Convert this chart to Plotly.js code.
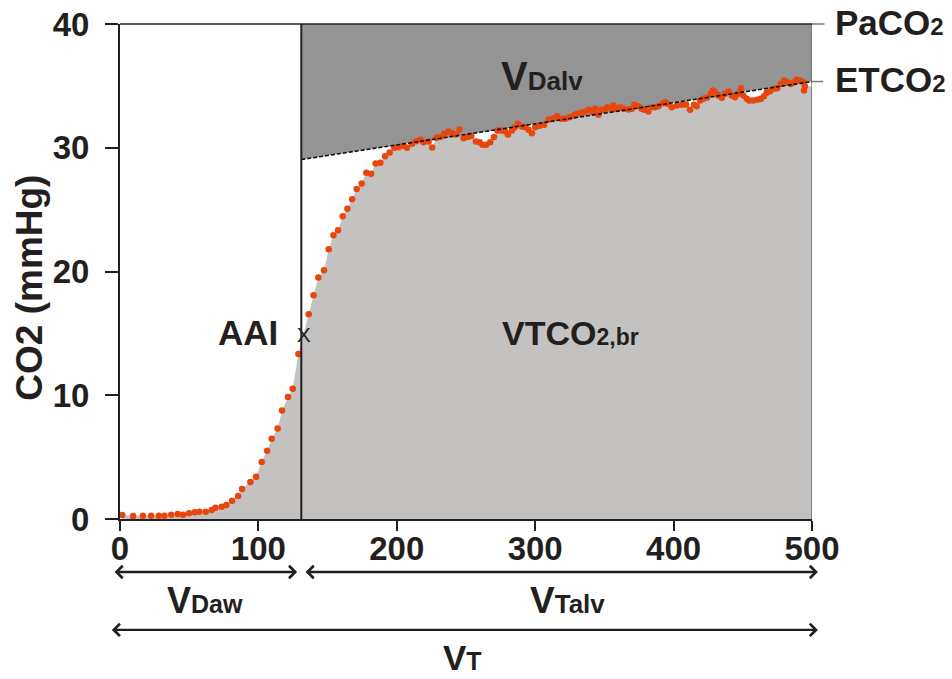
<!DOCTYPE html>
<html>
<head>
<meta charset="utf-8">
<script src="https://cdn.plot.ly/plotly-3.0.1.min.js"></script>
<style>
  html, body { margin: 0; padding: 0; background: #ffffff; }
  #chart { width: 952px; height: 679px; }
</style>
</head>
<body>
<div id="chart"></div>
<script>
// Expired volume (mL) of each capnogram sample
const volume = [
  1.6, 9.5, 16.5, 22.5, 28.0, 32.1, 37.0, 41.7, 45.6, 49.9,
  54.0, 57.4, 62.0, 66.3, 69.0, 73.5, 76.9, 81.0, 85.3, 88.2,
  94.2, 98.3, 102.4, 106.3, 109.6, 113.9, 117.1, 121.4, 124.8,
  128.9, 136.3, 139.9, 143.3, 147.4, 150.8,
  154.2, 157.5, 160.9, 164.3, 167.7, 171.0, 174.6, 178.0, 181.4, 184.7,
  188.1, 191.5, 194.8, 198.2, 201.3, 204.7, 207.4,
  211.0, 214.1, 217.0, 219.3, 223.0, 225.6, 228.5, 231.4, 234.3, 237.4,
  239.9, 242.7, 245.3, 248.2, 251.1, 253.8, 257.2, 259.8, 261.9, 264.6,
  267.5, 270.2, 272.8, 275.5, 278.3, 280.3, 283.2, 285.3, 287.5, 290.4,
  292.8, 295.2,
  297.6, 300.0, 303.1, 306.5, 309.6, 312.8, 315.7, 318.6, 321.7, 324.8,
  327.7, 330.1, 333.0, 336.1, 338.8, 341.7, 343.3, 345.7, 347.7, 350.5,
  352.2, 355.4, 356.5, 359.4, 361.4, 364.3, 367.4, 369.8, 371.7, 374.6,
  377.0, 378.9, 381.8, 384.3, 386.6, 389.0, 392.2, 393.9, 395.5,
  398.7, 402.3, 405.9, 409.0, 411.9, 414.8, 416.7, 419.1, 421.5, 424.0,
  426.9, 428.3, 430.0, 432.3, 434.8, 437.2, 439.6, 442.0, 444.4, 446.8,
  448.7, 450.4, 452.8, 454.7, 457.6, 460.5, 463.0, 465.3, 467.3, 469.7,
  472.6, 474.9, 477.4, 479.8, 482.2, 484.6, 487.0, 488.9, 491.3, 493.7,
  494.2, 494.9
];

// CO2 partial pressure (mmHg) of each sample
const co2 = [
  0.32, 0.24, 0.27, 0.27, 0.27, 0.27, 0.35, 0.40, 0.35, 0.46,
  0.54, 0.59, 0.59, 0.73, 0.91, 0.99, 1.13, 1.48, 1.86, 2.42,
  2.99, 3.41, 4.60, 5.51, 6.48, 7.31, 8.77, 9.85, 10.52,
  13.34, 16.55, 18.08, 19.51, 20.10, 21.79,
  22.92, 23.33, 24.46, 25.08, 25.83, 26.66, 27.12, 27.98, 27.90, 28.73,
  28.79, 29.32, 29.62, 30.00, 30.05, 30.16, 30.00,
  30.32, 30.53, 30.65, 30.45, 30.51, 30.02, 30.81, 30.86, 31.13, 31.32,
  31.18, 31.07, 31.48, 30.77, 30.86, 30.94, 30.51, 30.45, 30.24, 30.24,
  30.45, 30.86, 31.40, 31.40, 31.34, 31.07, 31.40, 31.66, 31.94, 31.72,
  31.66, 31.45,
  31.18, 31.66, 31.78, 31.86, 32.28, 32.34, 32.55, 32.34, 32.34, 32.47,
  32.61, 32.74, 32.82, 32.93, 33.07, 32.87, 33.15, 32.66, 33.07, 33.09,
  33.28, 33.09, 33.41, 33.15, 33.28, 33.15, 33.09, 33.15, 33.47, 33.36,
  33.15, 33.07, 32.93, 33.28, 33.28, 33.36, 33.60, 33.68, 33.55,
  33.28, 33.41, 33.47, 33.49, 33.07, 33.47, 33.36, 33.82, 33.96, 34.04,
  34.36, 34.62, 34.49, 34.22, 34.04, 34.36, 34.54, 34.22, 34.08, 34.36,
  34.81, 34.22, 33.96, 33.82, 33.82, 33.87, 33.96, 34.17, 34.44, 34.57,
  34.76, 34.81, 35.16, 35.43, 35.29, 35.16, 35.29, 35.49, 35.43, 35.29,
  34.62, 34.97
];

// Key volumes and pressures
const tidalVolume = 500;          // VT (mL)
const airwayDeadSpace = 131;      // VDaw boundary (mL)
const paco2 = 40;                 // arterial CO2 (mmHg)
const etco2 = 35.35;              // end-tidal CO2 (mmHg)
const phase3Volume = [131, 500];  // alveolar plateau regression line
const phase3CO2 = [29.05, 35.35];
const aaiVolume = [132.7];        // alpha angle inflection point
const aaiCO2 = [14.7];

const xTicks = [0, 100, 200, 300, 400, 500];
const yTicks = [0, 10, 20, 30, 40];

const FONT = 'Liberation Sans, Arial, Helvetica, sans-serif';
const INK = '#231f20';

const MARGIN = { l: 120, r: 140, t: 24, b: 160 };
const WIDTH = 952, HEIGHT = 679;
const plotWidth = WIDTH - MARGIN.l - MARGIN.r;

const lastCO2 = co2[co2.length - 1];

const traces = [
  // VTCO2,br area under the expirogram
  {
    x: volume.concat([tidalVolume]),
    y: co2.concat([lastCO2]),
    mode: 'lines',
    line: { width: 0, color: 'rgba(0,0,0,0)' },
    fill: 'tozeroy',
    fillcolor: '#c3c2c0',
    hoverinfo: 'skip',
    showlegend: false
  },
  // VDalv area between the phase III line and PaCO2
  {
    x: [phase3Volume[0], phase3Volume[1], phase3Volume[1], phase3Volume[0]],
    y: [phase3CO2[0], phase3CO2[1], paco2, paco2],
    mode: 'lines',
    line: { width: 0, color: 'rgba(0,0,0,0)' },
    fill: 'toself',
    fillcolor: '#949494',
    hoverinfo: 'skip',
    showlegend: false
  },
  // sampled CO2
  {
    x: volume,
    y: co2,
    mode: 'markers',
    marker: { size: 6.5, color: '#e8460c' },
    cliponaxis: false,
    showlegend: false
  },
  // phase III slope
  {
    x: phase3Volume,
    y: phase3CO2,
    mode: 'lines',
    line: { color: '#111111', width: 1.6, dash: '4px,2px' },
    hoverinfo: 'skip',
    showlegend: false
  },
  // AAI point
  {
    x: aaiVolume,
    y: aaiCO2,
    mode: 'text',
    text: ['X'],
    textposition: 'middle center',
    textfont: { family: FONT, size: 21, color: INK },
    cliponaxis: false,
    showlegend: false
  }
];

function small(t, size) {
  return '<span style="font-size:' + size + 'px">' + t + '</span>';
}

const bold = (size) => ({ family: FONT, size: size, color: INK, weight: 'bold' });

// double-headed volume arrow under the x axis, from volume v0 to v1
function arrow(v0, v1, yPaper) {
  return {
    xref: 'paper', yref: 'paper', axref: 'pixel', ayref: 'pixel',
    x: v1 / tidalVolume, y: yPaper,
    ax: -(v1 - v0) / tidalVolume * plotWidth, ay: 0,
    text: '', showarrow: true,
    arrowside: 'end+start',
    arrowhead: 4, startarrowhead: 4,
    arrowsize: 1, startarrowsize: 1,
    arrowwidth: 2.4, arrowcolor: INK
  };
}

const annotations = [
  { xref: 'paper', yref: 'paper', x: -0.131, y: 0.468, text: 'CO2 (mmHg)', textangle: -90,
    showarrow: false, font: bold(37), xanchor: 'center', yanchor: 'middle' },
  { xref: 'x', yref: 'y', x: 92.8, y: 15.1, text: 'AAI', showarrow: false,
    font: bold(35), xanchor: 'center', yanchor: 'middle' },
  { xref: 'x', yref: 'y', x: 274.7, y: 15.0, text: 'VTCO' + small('2,br', 23), showarrow: false,
    font: bold(34), xanchor: 'left', yanchor: 'middle' },
  { xref: 'x', yref: 'y', x: 274.2, y: 35.8, text: 'V' + small('Dalv', 26), showarrow: false,
    font: bold(40), xanchor: 'left', yanchor: 'middle' },
  { xref: 'paper', yref: 'y', x: 1.03, y: paco2, yshift: 2, text: 'PaCO' + small('2', 24), showarrow: false,
    font: bold(35), xanchor: 'left', yanchor: 'middle' },
  { xref: 'paper', yref: 'y', x: 1.03, y: etco2, yshift: 2, text: 'ETCO' + small('2', 24), showarrow: false,
    font: bold(35), xanchor: 'left', yanchor: 'middle' },
  { xref: 'x', yref: 'paper', x: 61.7, y: -0.164, text: 'V' + small('Daw', 25), showarrow: false,
    font: bold(36), xanchor: 'center', yanchor: 'middle' },
  { xref: 'x', yref: 'paper', x: 323.1, y: -0.164, text: 'V' + small('Talv', 26), showarrow: false,
    font: bold(37), xanchor: 'center', yanchor: 'middle' },
  { xref: 'x', yref: 'paper', x: 247.3, y: -0.279, text: 'V' + small('T', 25), showarrow: false,
    font: bold(35), xanchor: 'center', yanchor: 'middle' },
  arrow(-5, airwayDeadSpace - 3, -0.107),
  arrow(airwayDeadSpace + 2, tidalVolume + 4.3, -0.107),
  arrow(-7, tidalVolume + 4.3, -0.224)
];

const shapes = [
  // airway dead space boundary
  { type: 'line', xref: 'x', yref: 'y', x0: airwayDeadSpace, x1: airwayDeadSpace, y0: 0, y1: paco2,
    line: { color: INK, width: 2 }, layer: 'above' },
  // end of expiration
  { type: 'line', xref: 'x', yref: 'y', x0: tidalVolume, x1: tidalVolume, y0: 0, y1: paco2,
    line: { color: '#6a6a6a', width: 1.5 }, layer: 'above' },
  // PaCO2 level
  { type: 'line', xref: 'paper', yref: 'paper', x0: 0, x1: 1, y0: 1, y1: 1,
    line: { color: INK, width: 1.5 }, layer: 'above' },
  { type: 'line', xref: 'paper', yref: 'paper', x0: 1, x1: 1.018, y0: 1, y1: 1,
    line: { color: '#777777', width: 1.5 }, layer: 'above' },
  // ETCO2 marker
  { type: 'line', xref: 'paper', yref: 'paper', x0: 1, x1: 1.016, y0: etco2 / paco2, y1: etco2 / paco2,
    line: { color: '#777777', width: 1.5 }, layer: 'above' }
];

const layout = {
  width: WIDTH,
  height: HEIGHT,
  margin: MARGIN,
  paper_bgcolor: '#ffffff',
  plot_bgcolor: '#ffffff',
  showlegend: false,
  xaxis: {
    range: [0, tidalVolume],
    tickvals: xTicks,
    ticktext: xTicks.map(String),
    ticks: 'outside', ticklen: 10, tickwidth: 2, tickcolor: INK,
    ticklabelstandoff: -11,
    showline: true, linecolor: INK, linewidth: 2,
    showgrid: false, zeroline: false,
    tickfont: bold(33),
    fixedrange: true
  },
  yaxis: {
    range: [0, paco2],
    tickvals: yTicks,
    ticktext: yTicks.map(String),
    ticks: 'outside', ticklen: 13, tickwidth: 2, tickcolor: INK,
    ticklabelstandoff: 9,
    showline: true, linecolor: INK, linewidth: 2,
    showgrid: false, zeroline: false,
    tickfont: bold(33),
    fixedrange: true
  },
  annotations: annotations,
  shapes: shapes
};

Plotly.newPlot('chart', traces, layout, { displayModeBar: false, staticPlot: true });
</script>
</body>
</html>
